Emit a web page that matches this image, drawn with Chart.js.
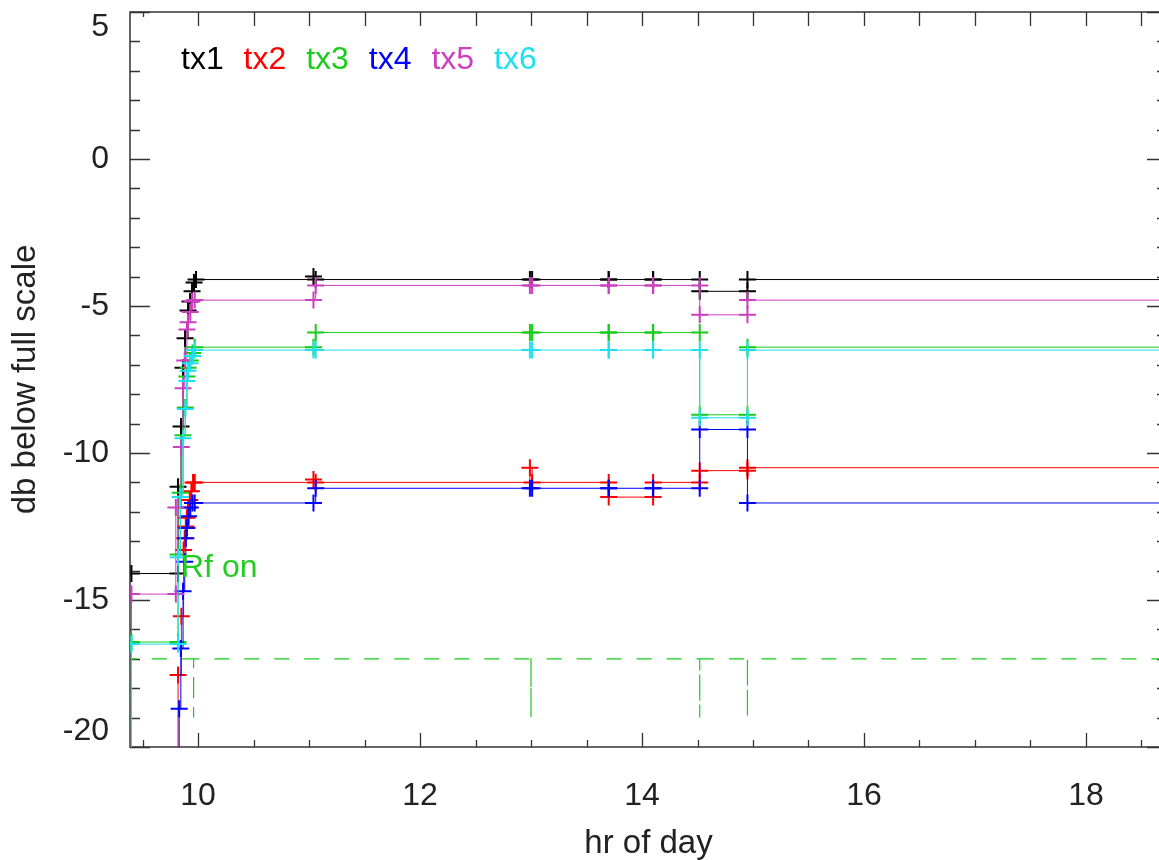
<!DOCTYPE html>
<html lang="en">
<head>
    <meta charset="UTF-8">
    <title>Transmitter levels</title>
    <script src="https://cdn.jsdelivr.net/npm/chart.js"></script>
    <style>
        html, body {
            margin: 0;
            padding: 0;
            background: #fff;
            overflow: hidden;
        }
        .chart-box {
            width: 1170px;
            height: 860px;
        }
    </style>
</head>
<body>
    <div class="chart-box">
        <canvas id="levelChart" width="1170" height="860"></canvas>
    </div>
    <script>
        // series names and colours
        const seriesNames = ['tx1', 'tx2', 'tx3', 'tx4', 'tx5', 'tx6'];
        const seriesColors = ['#000000', '#ff0000', '#19cc19', '#0000ff', '#cc3fbf', '#1ee0f0'];

        // times after the ramp (two samples per reading, last one runs off the right edge)
        const tailT = [11.04, 11.06, 12.99, 13.01, 13.70, 13.70, 14.10, 14.10, 14.52, 14.52, 14.95, 14.95, 18.90];

        // tx1 (black)
        const tx1T = [9.40, 9.82, 9.82, 9.847, 9.865, 9.883, 9.91, 9.928, 9.946, 9.964, 9.982];
        const tx1V = [-14.1, -14.1, -11.15, -9.1, -7.1, -6.1, -5.15, -4.85, -4.5, -4.2, -4.1];
        const tx1Tail = [-4.0, -4.1, -4.1, -4.1, -4.1, -4.1, -4.1, -4.1, -4.1, -4.5, -4.5, -4.1, -4.1];

        // tx2 (red)
        const tx2T = [9.00, 9.82, 9.85, 9.87, 9.88, 9.89, 9.90, 9.91, 9.925, 9.94, 9.955, 9.97];
        const tx2V = [-25, -17.55, -15.55, -13.3, -12.9, -12.5, -12.2, -11.85, -11.6, -11.3, -11.0, -11.0];
        const tx2Tail = [-10.9, -11.0, -10.5, -11.0, -11.0, -11.5, -11.5, -11.0, -11.0, -10.6, -10.6, -10.5, -10.5];

        // tx3 (green)
        const tx3T = [9.00, 9.40, 9.82, 9.82, 9.84, 9.865, 9.885, 9.90, 9.91, 9.93, 9.95, 9.97];
        const tx3V = [-25, -16.43, -16.43, -13.45, -11.35, -9.4, -8.45, -7.4, -7.1, -6.85, -6.6, -6.4];
        const tx3Tail = [-6.4, -5.9, -5.9, -5.9, -5.9, -5.9, -5.9, -5.9, -5.9, -8.7, -8.7, -6.4, -6.4];

        // tx4 (blue)
        const tx4T = [9.00, 9.83, 9.845, 9.865, 9.88, 9.89, 9.90, 9.915, 9.93, 9.95, 9.97];
        const tx4V = [-25, -18.7, -16.65, -14.7, -13.7, -12.9, -12.55, -12.15, -11.85, -11.7, -11.7];
        const tx4Tail = [-11.7, -11.2, -11.2, -11.2, -11.2, -11.2, -11.2, -11.2, -11.2, -9.2, -9.2, -11.7, -11.7];

        // tx5 (magenta)
        const tx5T = [9.00, 9.40, 9.80, 9.80, 9.85, 9.865, 9.88, 9.90, 9.91, 9.93, 9.945, 9.97];
        const tx5V = [-25, -14.8, -14.8, -11.85, -9.8, -7.8, -6.85, -5.8, -5.55, -5.2, -4.85, -4.8];
        const tx5Tail = [-4.8, -4.3, -4.3, -4.3, -4.3, -4.3, -4.3, -4.3, -4.3, -5.3, -5.3, -4.8, -4.8];

        // tx6 (cyan)
        const tx6T = [9.00, 9.40, 9.82, 9.82, 9.84, 9.865, 9.885, 9.90, 9.91, 9.93, 9.95, 9.97];
        const tx6V = [-25, -16.5, -16.5, -13.55, -11.5, -9.5, -8.5, -7.55, -7.2, -6.95, -6.7, -6.5];
        const tx6Tail = [-6.5, -6.5, -6.5, -6.5, -6.5, -6.5, -6.5, -6.5, -6.5, -8.8, -8.8, -6.5, -6.5];

        // Rf on marker line
        const rfT = [9.00, 9.40, 9.96, 9.96, 13.00, 13.00, 14.52, 14.52, 14.95, 14.95, 18.90];
        const rfV = [-25, -17, -19, -17, -19, -17, -19, -17, -19, -17, -17];

        // axes
        const xMin = 9.387, xMax = 18.73;
        const yMin = -20, yMax = 5;
        const xTickValues = [10, 12, 14, 16, 18];
        const xTickLabels = ['10', '12', '14', '16', '18'];
        const yTickValues = [-20, -15, -10, -5, 0, 5];
        const yTickLabels = ['-20', '-15', '-10', '-5', '0', '5'];

        const FONT = 'Liberation Sans, Arial, Helvetica, sans-serif';
        const TEXT = '#222';

        function toPoints(t, v) {
            return t.map((x, i) => ({x: x, y: v[i]}));
        }

        const seriesT = [tx1T, tx2T, tx3T, tx4T, tx5T, tx6T];
        const seriesV = [tx1V, tx2V, tx3V, tx4V, tx5V, tx6V];
        const seriesTail = [tx1Tail, tx2Tail, tx3Tail, tx4Tail, tx5Tail, tx6Tail];

        const datasets = seriesNames.map((name, i) => ({
            label: name,
            data: toPoints(seriesT[i].concat(tailT), seriesV[i].concat(seriesTail[i])),
            borderColor: seriesColors[i],
            backgroundColor: seriesColors[i],
            borderWidth: 1,
            stepped: true,
            pointStyle: 'cross',
            pointRadius: 8.5,
            pointBorderWidth: 2,
            pointBorderColor: seriesColors[i],
            order: 10 - i
        }));

        datasets.push({
            label: 'Rf on',
            data: toPoints(rfT, rfV),
            borderColor: '#19cc19',
            borderWidth: 1.2,
            borderDash: [15, 15],
            stepped: true,
            pointRadius: 0,
            order: 20
        });

        // frame, inward ticks, legend text
        const idlFrame = {
            id: 'idlFrame',
            beforeDatasetsDraw(chart) {
                const {ctx, chartArea: a, scales: {x, y}} = chart;
                ctx.save();
                ctx.strokeStyle = '#333';
                ctx.lineWidth = 1.5;
                ctx.strokeRect(a.left, a.top, a.right - a.left, a.bottom - a.top);

                ctx.lineWidth = 1.3;
                ctx.beginPath();
                // y ticks: every 1, long at every 5
                for (let v = yMin; v <= yMax; v++) {
                    const p = Math.round(y.getPixelForValue(v)) + 0.5;
                    const len = v % 5 === 0 ? 20 : 10;
                    ctx.moveTo(a.left, p); ctx.lineTo(a.left + len, p);
                    ctx.moveTo(a.right, p); ctx.lineTo(a.right - len, p);
                }
                // x ticks: every half hour, long at even hours on the bottom
                for (let h = 9.5; h < xMax; h += 0.5) {
                    const p = Math.round(x.getPixelForValue(h)) + 0.5;
                    const len = h % 2 === 0 ? 14 : 7;
                    ctx.moveTo(p, a.bottom); ctx.lineTo(p, a.bottom - len);
                    const top = h === 9.5 ? 5 : 14;
                    ctx.moveTo(p, a.top); ctx.lineTo(p, a.top + top);
                }
                ctx.stroke();
                ctx.restore();
            },
            afterDraw(chart) {
                const {ctx} = chart;
                ctx.save();
                ctx.font = '32px ' + FONT;
                ctx.textBaseline = 'alphabetic';
                ctx.textAlign = 'left';
                seriesNames.forEach((name, i) => {
                    ctx.fillStyle = seriesColors[i];
                    ctx.fillText(name, 181 + i * 62.6, 69);
                });
                ctx.fillStyle = '#22cc22';
                ctx.fillText('Rf on', 181, 577);
                ctx.restore();
            }
        };

        new Chart(document.getElementById('levelChart'), {
            type: 'line',
            data: { datasets: datasets },
            plugins: [idlFrame],
            options: {
                responsive: false,
                animation: false,
                devicePixelRatio: 1,
                layout: { autoPadding: false, padding: { top: 12, right: 3, left: 0, bottom: 0 } },
                plugins: {
                    legend: { display: false },
                    tooltip: { enabled: false }
                },
                scales: {
                    x: {
                        type: 'linear',
                        min: xMin,
                        max: xMax,
                        grid: { display: false },
                        border: { display: false },
                        afterBuildTicks: s => { s.ticks = xTickValues.map(v => ({value: v})); },
                        afterFit: s => {
                            s.height = 113;
                            s.paddingLeft = 0;
                            s.paddingRight = 0;
                        },
                        ticks: {
                            padding: 22,
                            maxRotation: 0,
                            autoSkip: false,
                            color: TEXT,
                            font: { family: FONT, size: 32 },
                            callback: v => xTickLabels[xTickValues.indexOf(v)]
                        },
                        title: {
                            display: true,
                            text: 'hr of day',
                            color: TEXT,
                            font: { family: FONT, size: 33 },
                            padding: { top: 0, bottom: -4 }
                        }
                    },
                    y: {
                        min: yMin,
                        max: yMax,
                        grid: { display: false },
                        border: { display: false },
                        afterBuildTicks: s => { s.ticks = yTickValues.map(v => ({value: v})); },
                        afterFit: s => {
                            s.width = 130;
                            s.paddingTop = 0;
                            s.paddingBottom = 0;
                        },
                        ticks: {
                            padding: 13,
                            autoSkip: false,
                            color: TEXT,
                            font: { family: FONT, size: 32, lineHeight: 0.97 },
                            callback: v => {
                                const lab = yTickLabels[yTickValues.indexOf(v)];
                                // IDL nudges the end labels inside the axis
                                if (v === yMax) return ['', lab];
                                if (v === yMin) return [lab, ''];
                                return lab;
                            }
                        },
                        title: {
                            display: true,
                            text: 'db below full scale',
                            color: TEXT,
                            font: { family: FONT, size: 33 },
                            padding: { top: 6, bottom: 0 }
                        }
                    }
                }
            }
        });
    </script>
</body>
</html>
